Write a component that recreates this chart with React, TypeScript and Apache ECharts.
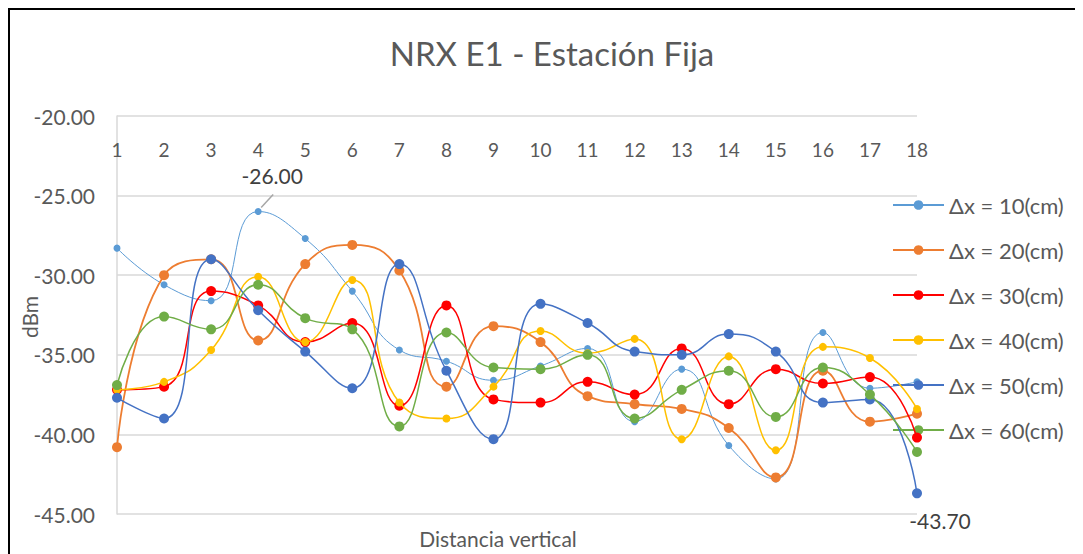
import React, { useEffect, useRef } from "react";
import * as echarts from "echarts";

const categories = ["1","2","3","4","5","6","7","8","9","10","11","12","13","14","15","16","17","18"];
const seriesNames = ["Δx = 10(cm)", "Δx = 20(cm)", "Δx = 30(cm)", "Δx = 40(cm)", "Δx = 50(cm)", "Δx = 60(cm)"];
const colors = ["#5B9BD5", "#ED7D31", "#FF0000", "#FFC000", "#4472C4", "#70AD47"];
const s10 = [-28.3, -30.6, -31.6, -26.0, -27.7, -31.0, -34.7, -35.4, -36.6, -35.7, -34.6, -39.2, -35.9, -40.7, -42.8, -33.6, -37.1, -36.7];
const s20 = [-40.8, -30.0, -29.0, -34.1, -29.3, -28.1, -29.7, -37.0, -33.2, -34.2, -37.6, -38.1, -38.4, -39.6, -42.7, -36.0, -39.2, -38.7];
const s30 = [-37.2, -37.0, -31.0, -31.9, -34.2, -33.0, -38.2, -31.9, -37.8, -38.0, -36.7, -37.5, -34.6, -38.1, -35.9, -36.8, -36.4, -40.2];
const s40 = [-37.2, -36.7, -34.7, -30.1, -34.2, -30.3, -38.0, -39.0, -37.0, -33.5, -34.9, -34.0, -40.3, -35.1, -41.0, -34.5, -35.2, -38.4];
const s50 = [-37.7, -39.0, -29.0, -32.2, -34.8, -37.1, -29.3, -36.0, -40.3, -31.8, -33.0, -34.8, -35.0, -33.7, -34.8, -38.0, -37.8, -43.7];
const s60 = [-36.9, -32.6, -33.4, -30.6, -32.7, -33.4, -39.5, -33.6, -35.8, -35.9, -35.0, -39.0, -37.2, -36.0, -38.9, -35.8, -37.5, -41.1];
const allSeries = [s10, s20, s30, s40, s50, s60];
const symbolSizes = [7, 10, 10, 8, 10, 10];
const lineWidths = [1, 1.8, 1.5, 1.5, 1.5, 1.5];
const yTicks = { min: -45, max: -20, interval: 5 };
const labelled = [
  { series: 0, index: 3 },
  { series: 4, index: 17 },
];
const FONT = "Lato, 'Noto Sans', sans-serif";

export default function App() {
  const ref = useRef<HTMLDivElement>(null);
  useEffect(() => {
    if (!ref.current) return;
    const chart = echarts.init(ref.current, undefined, { renderer: "svg" });
    const series = allSeries.map((vals, si) => {
      const data = vals.map((v, i) => {
        if (si === labelled[0].series && i === labelled[0].index) {
          return {
            value: v,
            label: { show: true, position: "top", distance: 4, offset: [14, -18], formatter: (p: any) => p.value.toFixed(2) },
          };
        }
        if (si === labelled[1].series && i === labelled[1].index) {
          return {
            value: v,
            label: { show: true, position: "bottom", distance: 4, offset: [23, 8], formatter: (p: any) => p.value.toFixed(2) },
          };
        }
        return v;
      });
      return {
        name: seriesNames[si],
        type: "line",
        smooth: 0.5,
        symbol: "circle",
        symbolSize: symbolSizes[si],
        showAllSymbol: true,
        data,
        itemStyle: { color: colors[si] },
        lineStyle: { color: colors[si], width: lineWidths[si] },
        label: { show: false, fontSize: 21, color: "#404040", fontFamily: FONT },
        z: 2 + si,
      };
    });
    chart.setOption({
      animation: false,
      backgroundColor: "#fff",
      textStyle: { fontFamily: FONT },
      title: {
        text: "NRX E1 - Estación Fija",
        left: 539,
        textAlign: "center",
        top: 23,
        textStyle: { fontSize: 33, fontWeight: "normal", color: "#595959", fontFamily: FONT },
      },
      grid: { left: 109, top: 108, right: 166, bottom: 40, containLabel: false },
      legend: {
        orient: "vertical",
        left: 884,
        top: 186,
        itemWidth: 51,
        itemHeight: 12,
        itemGap: 23,
        padding: 0,
        data: seriesNames,
        textStyle: { fontSize: 22, color: "#595959", fontFamily: FONT },
      },
      xAxis: {
        type: "category",
        data: categories,
        boundaryGap: false,
        position: "top",
        axisLine: { show: false },
        axisTick: { show: false },
        axisLabel: { inside: true, margin: 24, fontSize: 19, color: "#595959", fontFamily: FONT },
        splitLine: { show: false },
      },
      yAxis: {
        type: "value",
        min: yTicks.min,
        max: yTicks.max,
        interval: yTicks.interval,
        axisLine: { show: true, lineStyle: { color: "#D9D9D9", width: 1.5 } },
        axisTick: { show: false },
        axisLabel: { margin: 22, fontSize: 21, color: "#595959", fontFamily: FONT, formatter: (v: number) => v.toFixed(2) },
        splitLine: { show: true, lineStyle: { color: "#D9D9D9", width: 1.5 } },
      },
      graphic: [
        { type: "line", shape: { x1: 1, y1: 0, x2: 1, y2: 546 }, style: { stroke: "#000", lineWidth: 2 }, silent: true },
        { type: "line", shape: { x1: 0, y1: 1, x2: 1075, y2: 1 }, style: { stroke: "#000", lineWidth: 2 }, silent: true },
        {
          type: "text", x: 490, y: 530,
          style: { text: "Distancia vertical", fontSize: 21, fill: "#595959", fontFamily: FONT, textAlign: "center", textVerticalAlign: "middle" },
        },
        {
          type: "text", x: 21, y: 309, rotation: Math.PI / 2,
          style: { text: "dBm", fontSize: 21, fill: "#595959", fontFamily: FONT, textAlign: "center", textVerticalAlign: "middle" },
        },
      ],
      series,
    });
    // leader line for the first data label, positioned via the library's scales
    const lp = labelled[0];
    const pt = chart.convertToPixel({ gridIndex: 0 }, [lp.index, allSeries[lp.series][lp.index]]) as number[];
    if (pt && isFinite(pt[0])) {
      chart.setOption({
        graphic: [
          {
            id: "leader",
            type: "line",
            shape: { x1: pt[0] + 3, y1: pt[1] - 4, x2: pt[0] + 15, y2: pt[1] - 17 },
            style: { stroke: "#A6A6A6", lineWidth: 1.5 },
            silent: true,
            z: 1,
          },
        ],
      });
    }
    return () => chart.dispose();
  }, []);
  return <div ref={ref} style={{ width: 1075, height: 546 }} />;
}
